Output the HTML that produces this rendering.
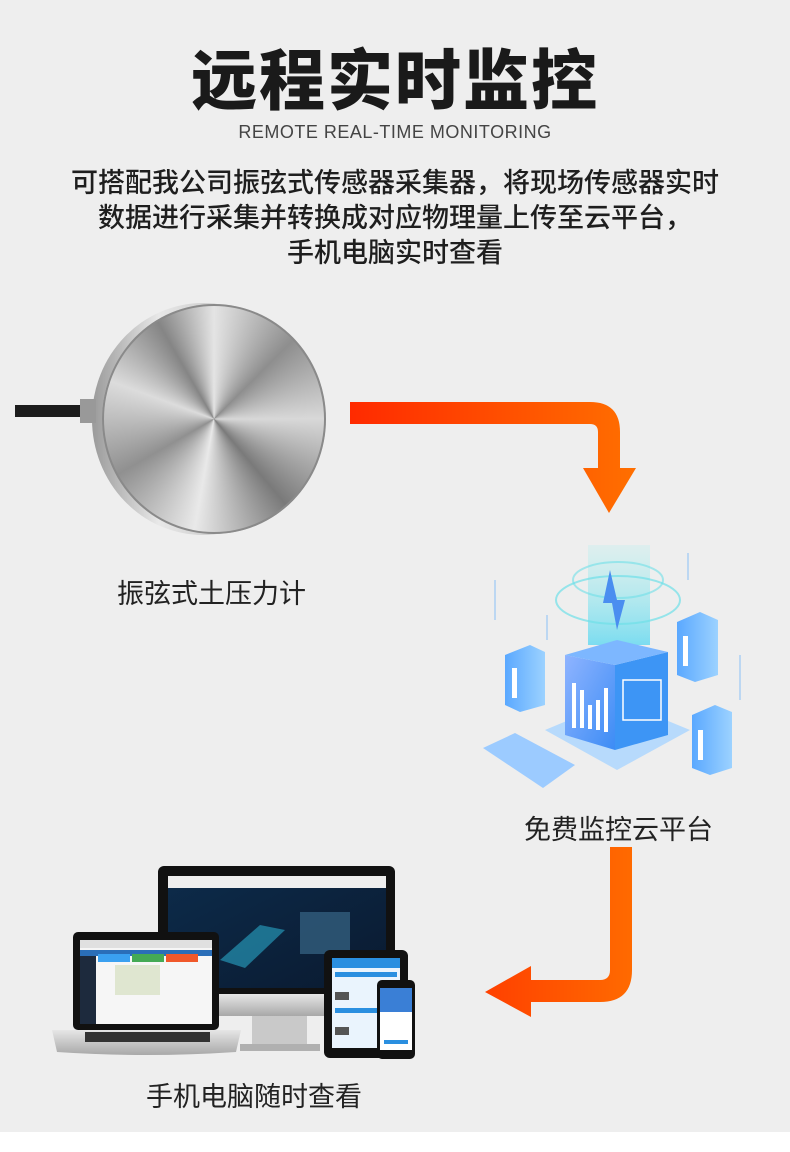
<!DOCTYPE html>
<html><head><meta charset="utf-8"><style>
html,body{margin:0;padding:0}
body{width:790px;height:1152px;position:relative;background:#fff;overflow:hidden;font-family:"Liberation Sans","Noto Sans CJK SC",sans-serif;color:#222}
#bg{position:absolute;left:0;top:0;width:790px;height:1132px;background:#eeeeee}
.t{position:absolute;left:0;width:790px;text-align:center;white-space:nowrap}
svg{position:absolute;left:0;top:0}
#rimd{position:absolute;left:92px;top:303px;width:222px;height:232px;border-radius:50%;background:linear-gradient(90deg,#9a9a9a,#e8e8e8 30%,#bdbdbd 70%,#888)}
#face{position:absolute;left:102px;top:304px;width:224px;height:230px;border-radius:50%;background:conic-gradient(from 0deg,#e4e4e4,#8e8e8e 45deg,#d8d8d8 90deg,#7a7a7a 140deg,#e9e9e9 190deg,#909090 240deg,#dcdcdc 290deg,#858585 330deg,#e4e4e4);box-shadow:inset 0 0 0 2px #8a8a8a}
</style></head><body>
<div id="bg"></div>
<div class="t" style="top:39px;font-size:66px;font-weight:900;letter-spacing:2px;color:#1a1a1a;line-height:84px">远程实时监控</div>
<div class="t" style="top:122px;font-size:18px;color:#444;letter-spacing:0.5px">REMOTE REAL-TIME MONITORING</div>
<div class="t" style="top:166px;font-size:27px;font-weight:500;line-height:35px;color:#1e1e1e">可搭配我公司振弦式传感器采集器，将现场传感器实时<br>数据进行采集并转换成对应物理量上传至云平台，<br>手机电脑实时查看</div>
<div id="rimd"></div>
<div id="face"></div>
<svg width="790" height="1152" viewBox="0 0 790 1152">
<defs>
<linearGradient id="ar1" x1="0" x2="1" y1="0" y2="0"><stop offset="0" stop-color="#ff2a00"/><stop offset="1" stop-color="#ff6f00"/></linearGradient>
<linearGradient id="ar2" x1="0" x2="1" y1="0" y2="0"><stop offset="0" stop-color="#ff4000"/><stop offset="1" stop-color="#ff6a00"/></linearGradient>
<linearGradient id="blu" x1="0" x2="1" y1="0" y2="1"><stop offset="0" stop-color="#8fb4ff"/><stop offset="1" stop-color="#3c8cf5"/></linearGradient>
<linearGradient id="blu2" x1="0" x2="1"><stop offset="0" stop-color="#5aa8ff"/><stop offset="1" stop-color="#9cd2ff"/></linearGradient>
<linearGradient id="holo" x1="0" x2="0" y1="0" y2="1"><stop offset="0" stop-color="#9ff0ee" stop-opacity="0.2"/><stop offset="1" stop-color="#5fd8f0" stop-opacity="0.8"/></linearGradient>
<linearGradient id="scr" x1="0" x2="1" y1="0" y2="1"><stop offset="0" stop-color="#0d2b4a"/><stop offset="1" stop-color="#0a1a30"/></linearGradient>
<linearGradient id="silv" x1="0" x2="0" y1="0" y2="1"><stop offset="0" stop-color="#e6e6e6"/><stop offset="1" stop-color="#a8a8a8"/></linearGradient>
</defs>
<rect x="15" y="405" width="70" height="12" fill="#1c1c1c"/>
<rect x="80" y="399" width="16" height="24" fill="#999"/>
<path d="M350 402 H590 Q620 402 620 432 V468 H636 L609 513 L583 468 H598 V432 Q598 424 590 424 H350 Z" fill="url(#ar1)"/>
<path d="M610 847 H632 V970 Q632 1002 600 1002 H531 V1017 L485 992 L531 966 V980 H600 Q610 980 610 970 Z" fill="url(#ar2)"/>
<g>
<rect x="588" y="545" width="62" height="100" fill="url(#holo)"/>
<ellipse cx="618" cy="600" rx="62" ry="24" fill="none" stroke="#6fe0e8" stroke-width="2" opacity="0.7"/>
<ellipse cx="618" cy="580" rx="45" ry="18" fill="none" stroke="#6fe0e8" stroke-width="2" opacity="0.6"/>
<path d="M545 730 L617 700 L690 730 L617 770 Z" fill="#a9d4ff" opacity="0.8"/>
<path d="M565 655 L615 665 L615 750 L565 735 Z" fill="url(#blu)"/>
<path d="M615 665 L668 652 L668 735 L615 750 Z" fill="#3d95f5"/>
<path d="M565 655 L617 640 L668 652 L615 665 Z" fill="#7db7ff"/>
<g fill="#fff"><rect x="572" y="683" width="4" height="45"/><rect x="580" y="690" width="4" height="38"/><rect x="588" y="705" width="4" height="24"/><rect x="596" y="700" width="4" height="30"/><rect x="604" y="688" width="4" height="44"/></g>
<rect x="623" y="680" width="38" height="40" fill="none" stroke="#fff" stroke-width="1.5"/>
<path d="M610 570 L617 600 L625 600 L617 630 L612 603 L603 603 Z" fill="#4a8ef0"/>
<path d="M505 655 L530 645 L545 652 L545 705 L520 712 L505 705 Z" fill="url(#blu2)"/>
<rect x="512" y="668" width="5" height="30" fill="#fff"/>
<path d="M677 622 L700 612 L718 620 L718 675 L695 682 L677 675 Z" fill="url(#blu2)"/>
<rect x="683" y="636" width="5" height="30" fill="#fff"/>
<path d="M692 715 L715 705 L732 712 L732 768 L710 775 L692 768 Z" fill="url(#blu2)"/>
<rect x="698" y="730" width="5" height="30" fill="#fff"/>
<path d="M483 748 L515 733 L575 765 L543 788 Z" fill="#9ccbff"/>
<g stroke="#9cc8f5" stroke-width="2" opacity="0.6"><line x1="495" y1="580" x2="495" y2="620"/><line x1="688" y1="553" x2="688" y2="580"/><line x1="740" y1="655" x2="740" y2="700"/><line x1="547" y1="615" x2="547" y2="640"/></g>
</g>
<rect x="158" y="866" width="237" height="128" rx="6" fill="#111"/>
<rect x="168" y="876" width="218" height="112" fill="url(#scr)"/>
<rect x="168" y="876" width="218" height="12" fill="#eee"/>
<rect x="300" y="912" width="50" height="42" fill="#2d5676" opacity="0.9"/>
<path d="M220 960 L260 925 L285 930 L245 968 Z" fill="#2aa7c8" opacity="0.6"/>
<rect x="218" y="994" width="172" height="22" fill="url(#silv)"/>
<rect x="252" y="1016" width="55" height="30" fill="#c9c9c9"/>
<rect x="240" y="1044" width="80" height="7" fill="#b0b0b0"/>
<rect x="73" y="932" width="146" height="98" rx="5" fill="#111"/>
<rect x="80" y="940" width="132" height="84" fill="#f6f6f6"/>
<rect x="80" y="940" width="132" height="8" fill="#e0e0e0"/>
<rect x="80" y="950" width="132" height="6" fill="#2a6eb8"/>
<rect x="80" y="956" width="16" height="68" fill="#1d2a3d"/>
<rect x="98" y="954" width="32" height="8" fill="#3aa0f0"/><rect x="132" y="954" width="32" height="8" fill="#44aa55"/><rect x="166" y="954" width="32" height="8" fill="#f0582a"/>
<rect x="115" y="965" width="45" height="30" fill="#dfe6d0"/>
<path d="M52 1030 H241 L236 1052 Q146 1058 57 1052 Z" fill="url(#silv)"/>
<rect x="85" y="1032" width="125" height="10" fill="#333"/>
<rect x="324" y="950" width="84" height="108" rx="6" fill="#111"/>
<rect x="332" y="958" width="68" height="90" fill="#eaf4fd"/>
<rect x="332" y="958" width="68" height="10" fill="#2a8fe0"/>
<g fill="#2a8fe0"><rect x="335" y="972" width="62" height="5"/><rect x="335" y="1008" width="62" height="5"/></g>
<g fill="#555"><rect x="335" y="992" width="14" height="8"/><rect x="335" y="1027" width="14" height="8"/></g>
<rect x="377" y="980" width="38" height="79" rx="5" fill="#111"/>
<rect x="380" y="988" width="32" height="62" fill="#fff"/>
<rect x="380" y="988" width="32" height="24" fill="#3a7fd6"/>
<rect x="384" y="1040" width="24" height="4" fill="#2a8fe0"/>
</svg>
<div class="t" style="left:117px;width:auto;top:572px;font-size:27px">振弦式土压力计</div>
<div class="t" style="left:524px;width:auto;top:808px;font-size:27px">免费监控云平台</div>
<div class="t" style="left:146px;width:auto;top:1075px;font-size:27px">手机电脑随时查看</div>
</body></html>
